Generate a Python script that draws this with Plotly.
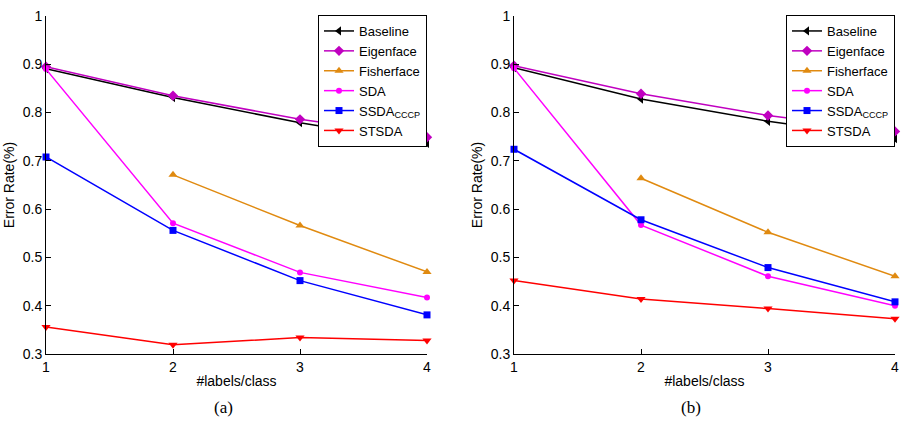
import plotly.graph_objects as go

x_labels = [1, 2, 3, 4]
series_names = ["Baseline", "Eigenface", "Fisherface", "SDA", "SSDA<sub>CCCP</sub>", "STSDA"]

# Panel (a)
a_baseline = [0.891, 0.831, 0.779, 0.736]
a_eigenface = [0.895, 0.835, 0.786, 0.749]
a_fisherface = [None, 0.671, 0.566, 0.470]
a_sda = [0.890, 0.571, 0.469, 0.417]
a_ssda = [0.708, 0.556, 0.452, 0.381]
a_stsda = [0.356, 0.319, 0.334, 0.328]

# Panel (b)
b_baseline = [0.893, 0.828, 0.782, 0.746]
b_eigenface = [0.897, 0.839, 0.794, 0.761]
b_fisherface = [None, 0.664, 0.552, 0.461]
b_sda = [0.892, 0.567, 0.461, 0.400]
b_ssda = [0.724, 0.578, 0.479, 0.408]
b_stsda = [0.452, 0.414, 0.394, 0.373]

colors = ["#000000", "#c000c0", "#e08a10", "#ff00ff", "#0000ff", "#ff0000"]
symbols = ["triangle-left", "diamond", "triangle-up", "circle", "square", "triangle-down"]
sizes = [8, 8, 8, 6, 7, 8]

W, H = 907, 421
fig = go.Figure()

panels = [
    ([a_baseline, a_eigenface, a_fisherface, a_sda, a_ssda, a_stsda], "x", "y", "legend"),
    ([b_baseline, b_eigenface, b_fisherface, b_sda, b_ssda, b_stsda], "x2", "y2", "legend2"),
]
for data, xa, ya, lg in panels:
    for name, vals, c, s, sz in zip(series_names, data, colors, symbols, sizes):
        fig.add_trace(go.Scatter(
            x=x_labels, y=vals, name=name, mode="lines+markers",
            line=dict(color=c, width=1.5),
            marker=dict(symbol=s, size=sz, color=c),
            xaxis=xa, yaxis=ya, legend=lg, cliponaxis=False,
        ))

ydom = [(H - 354) / H, (H - 16) / H]
axfont = dict(family="Liberation Sans, Arial", size=14, color="#000")
common_x = dict(range=[1, 4], tickvals=x_labels, ticks="inside", ticklen=5,
                showline=True, linecolor="#000", linewidth=1, showgrid=False,
                zeroline=False, tickfont=axfont, tickcolor="#000", automargin=False,
                title=dict(text="#labels/class", font=axfont, standoff=2))
common_y = dict(range=[0.3, 1], tickvals=[0.3, 0.4, 0.5, 0.6, 0.7, 0.8, 0.9, 1],
                ticktext=["0.3", "0.4", "0.5", "0.6", "0.7", "0.8", "0.9", "1"],
                ticks="inside", ticklen=5, showline=True, linecolor="#000", linewidth=1,
                showgrid=False, zeroline=False, tickfont=axfont, tickcolor="#000",
                automargin=False,
                title=dict(text="Error Rate(%)", font=axfont, standoff=4), domain=ydom)

legfont = dict(family="Liberation Sans, Arial", size=13, color="#000")
leg_common = dict(bgcolor="#fff", bordercolor="#000", borderwidth=1, font=legfont,
                  xanchor="right", yanchor="top", tracegroupgap=0, itemwidth=30,
                  y=(H - 15) / H)

fig.update_layout(
    width=W, height=H, margin=dict(l=0, r=0, t=0, b=0, autoexpand=False),
    paper_bgcolor="#fff", plot_bgcolor="#fff",
    xaxis=dict(common_x, domain=[46 / W, 427 / W], anchor="y"),
    yaxis=dict(common_y, anchor="x"),
    xaxis2=dict(common_x, domain=[514 / W, 895 / W], anchor="y2"),
    yaxis2=dict(common_y, anchor="x2"),
    legend=dict(leg_common, x=427 / W),
    legend2=dict(leg_common, x=895 / W),
    annotations=[
        dict(text="(a)", x=223 / W, y=(H - 407) / H, xref="paper", yref="paper",
             xanchor="center", yanchor="middle", showarrow=False,
             font=dict(family="Liberation Serif, Times New Roman", size=17, color="#000")),
        dict(text="(b)", x=691 / W, y=(H - 407) / H, xref="paper", yref="paper",
             xanchor="center", yanchor="middle", showarrow=False,
             font=dict(family="Liberation Serif, Times New Roman", size=17, color="#000")),
    ],
)

fig.write_html("out.html", config={"displayModeBar": False},
               post_script="document.body.style.margin='0';document.body.style.overflow='hidden';")
